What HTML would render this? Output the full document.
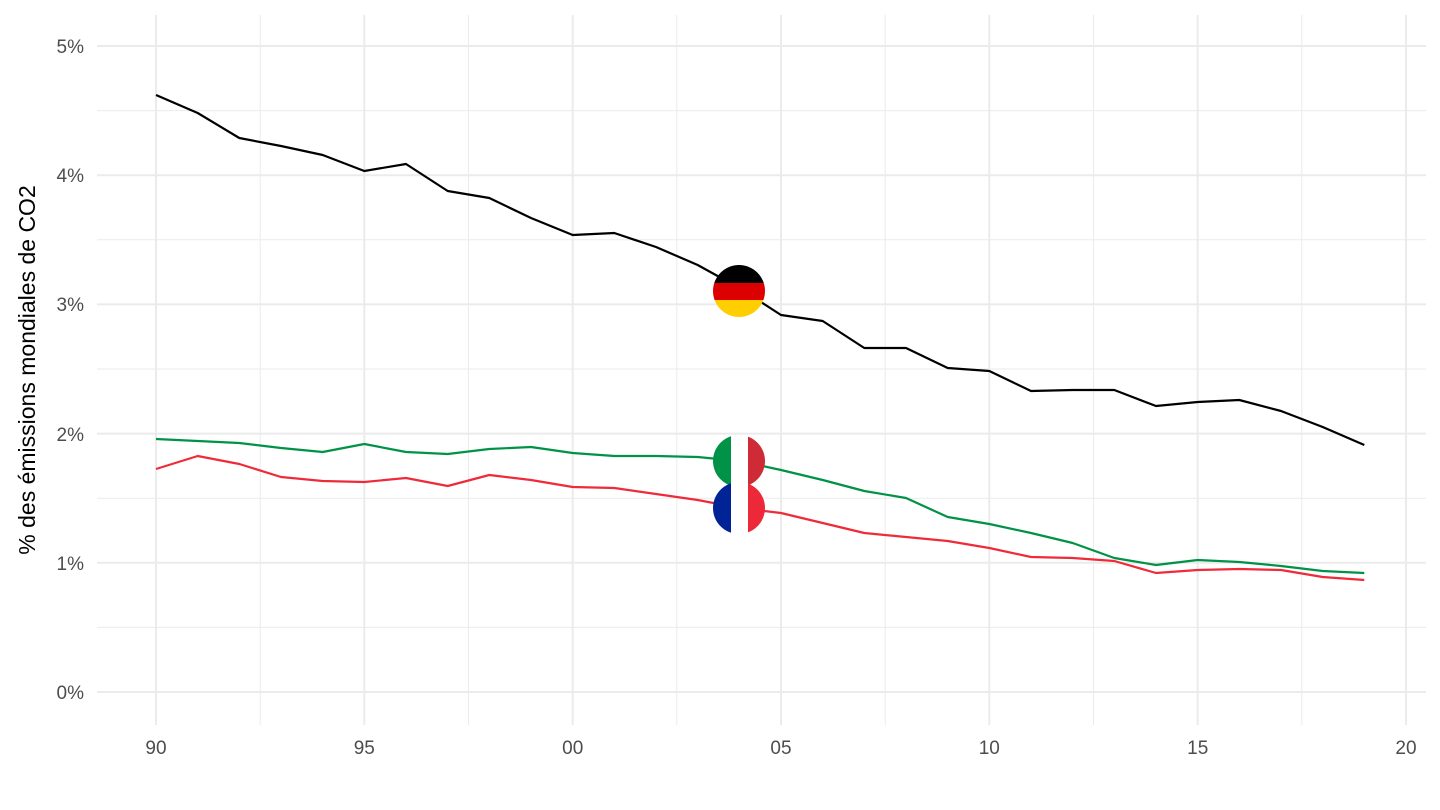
<!DOCTYPE html>
<html><head><meta charset="utf-8"><style>body{margin:0;background:#fff}svg{display:block}</style></head><body>
<svg width="1440" height="810" xmlns="http://www.w3.org/2000/svg" font-family="Liberation Sans, sans-serif">
<defs>
<clipPath id="c1"><circle cx="739" cy="291" r="26"/></clipPath>
<clipPath id="c2"><circle cx="739" cy="461" r="26"/></clipPath>
<clipPath id="c3"><circle cx="739" cy="508" r="26"/></clipPath>
</defs>
<g stroke="#ebebeb" stroke-width="1">
<line x1="97" x2="1426" y1="627.4" y2="627.4"/><line x1="97" x2="1426" y1="498.2" y2="498.2"/><line x1="97" x2="1426" y1="369" y2="369"/><line x1="97" x2="1426" y1="239.8" y2="239.8"/><line x1="97" x2="1426" y1="110.6" y2="110.6"/>
<line y1="15" y2="725" x1="260.2" x2="260.2"/><line y1="15" y2="725" x1="468.5" x2="468.5"/><line y1="15" y2="725" x1="676.8" x2="676.8"/><line y1="15" y2="725" x1="885.2" x2="885.2"/><line y1="15" y2="725" x1="1093.5" x2="1093.5"/><line y1="15" y2="725" x1="1301.8" x2="1301.8"/>
</g>
<g stroke="#ebebeb" stroke-width="2">
<line x1="97" x2="1426" y1="692" y2="692"/><line x1="97" x2="1426" y1="562.8" y2="562.8"/><line x1="97" x2="1426" y1="433.6" y2="433.6"/><line x1="97" x2="1426" y1="304.4" y2="304.4"/><line x1="97" x2="1426" y1="175.2" y2="175.2"/><line x1="97" x2="1426" y1="46" y2="46"/>
<line y1="15" y2="725" x1="156" x2="156"/><line y1="15" y2="725" x1="364.3" x2="364.3"/><line y1="15" y2="725" x1="572.7" x2="572.7"/><line y1="15" y2="725" x1="781" x2="781"/><line y1="15" y2="725" x1="989.3" x2="989.3"/><line y1="15" y2="725" x1="1197.7" x2="1197.7"/><line y1="15" y2="725" x1="1406" x2="1406"/>
</g>
<g font-size="19" fill="#4d4d4d" text-anchor="end">
<text x="84" y="699">0%</text><text x="84" y="570">1%</text><text x="84" y="441">2%</text><text x="84" y="311">3%</text><text x="84" y="182">4%</text><text x="84" y="53">5%</text>
</g>
<g font-size="19" fill="#4d4d4d" text-anchor="middle">
<text x="156" y="754">90</text><text x="364.3" y="754">95</text><text x="572.7" y="754">00</text><text x="781" y="754">05</text><text x="989.3" y="754">10</text><text x="1197.7" y="754">15</text><text x="1406" y="754">20</text>
</g>
<text transform="translate(35,370) rotate(-90)" font-size="23" text-anchor="middle" fill="#000">% des émissions mondiales de CO2</text>
<g fill="none" stroke-width="2.2" stroke-linejoin="round">
<polyline id="bk" stroke="#000" points=""/>
<polyline id="gr" stroke="#009246" points=""/>
<polyline id="rd" stroke="#EF2B3A" points=""/>
</g>
<g clip-path="url(#c1)"><rect x="710" y="262" width="60" height="21" fill="#000"/><rect x="710" y="283" width="60" height="17" fill="#DD0000"/><rect x="710" y="300" width="60" height="20" fill="#FFCE00"/></g>
<g clip-path="url(#c2)"><rect x="710" y="432" width="21" height="60" fill="#009246"/><rect x="731" y="432" width="17" height="60" fill="#fff"/><rect x="748" y="432" width="25" height="60" fill="#CE2B37"/></g>
<g clip-path="url(#c3)"><rect x="710" y="479" width="21" height="60" fill="#002395"/><rect x="731" y="479" width="17" height="60" fill="#fff"/><rect x="748" y="479" width="25" height="60" fill="#ED2939"/></g>
<script>
var b=[95,113,138,146,155,171,164,191,198,218,235,233,247,265,288,315,321,348,348,368,371,391,390,390,406,402,400,411,427,445];
var g=[439,441,443,448,452,444,452,454,449,447,453,456,456,457,461,470,480,491,498,517,524,533,543,558,565,560,562,566,571,573];
var r=[469,456,464,477,481,482,478,486,475,480,487,488,494,500,508,513,523,533,537,541,548,557,558,561,573,570,569,570,577,580];
function p(a){return a.map(function(y,i){return (156+i*41.667).toFixed(1)+","+y}).join(" ");}
document.getElementById("bk").setAttribute("points",p(b));
document.getElementById("gr").setAttribute("points",p(g));
document.getElementById("rd").setAttribute("points",p(r));
</script>
</svg>
</body></html>
